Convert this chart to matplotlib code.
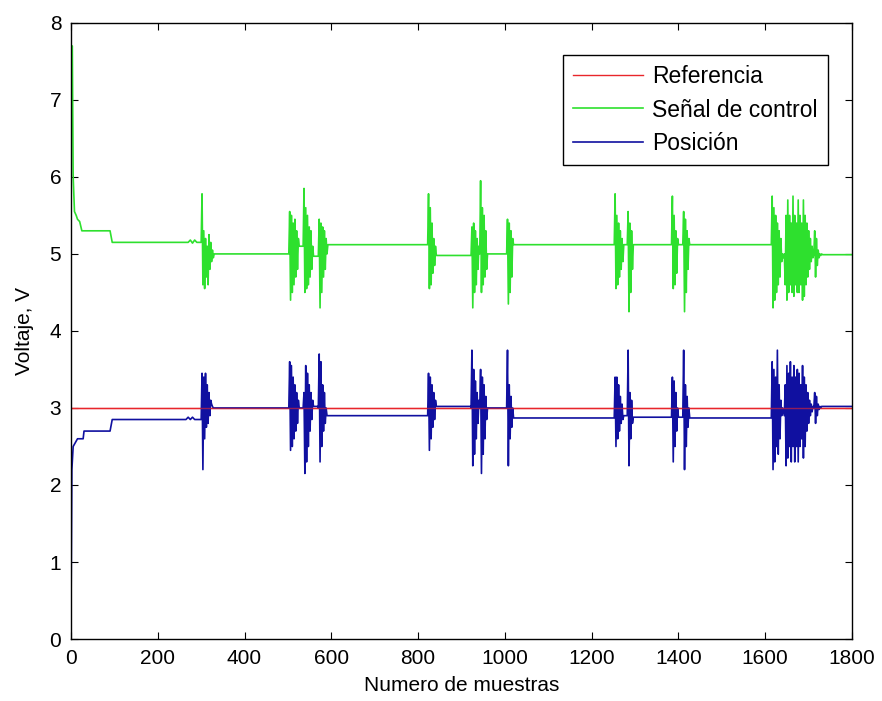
import matplotlib
matplotlib.use('Agg')
import matplotlib.pyplot as plt
import numpy as np

plt.rcParams.update({'font.family': ['Liberation Sans', 'DejaVu Sans'], 'font.size': 15})

# Reference level
ref_level = 3.0
x_max = 1800

# Initial transient (sample, value) before the first burst
ctrl_head_x = [0, 3, 5, 8, 12, 15, 20, 25, 90, 95, 270, 275, 280, 285, 290, 298]
ctrl_head_y = [7.7, 7.7, 6.0, 5.55, 5.5, 5.45, 5.42, 5.3, 5.3, 5.15, 5.15, 5.18, 5.14, 5.18, 5.15, 5.15]
pos_head_x = [0, 1, 2, 5, 10, 15, 28, 30, 90, 95, 265, 270, 275, 280, 285, 298]
pos_head_y = [0.3, 1.2, 2.2, 2.5, 2.55, 2.6, 2.6, 2.7, 2.7, 2.85, 2.85, 2.88, 2.85, 2.88, 2.85, 2.85]

# Bursts: start sample, values every 2 samples
burst_starts = [300, 502, 535, 570, 822, 922, 942, 1004, 1252, 1282, 1384, 1410, 1614]
burst_step = 2

ctrl_bursts = [
    [5.15, 5.78, 4.6, 5.3, 4.55, 5.2, 4.7, 5.1, 4.6, 5.25, 4.8, 5.15, 4.9, 5.05, 4.95, 5.0],
    [5.0, 5.55, 4.4, 5.5, 4.5, 5.4, 4.6, 5.45, 4.7, 5.3, 4.8, 5.2, 5.1],
    [5.1, 5.85, 4.5, 5.6, 4.55, 5.5, 4.6, 5.35, 4.7, 5.3, 4.8, 5.1, 4.97],
    [4.97, 5.45, 4.3, 5.4, 4.5, 5.35, 4.7, 5.3, 4.8, 5.2, 5.0, 5.12],
    [5.12, 5.78, 4.55, 5.6, 4.6, 5.4, 4.75, 5.2, 4.85, 5.1, 4.98],
    [4.98, 5.35, 4.3, 5.4, 4.5, 5.3, 4.6, 5.2, 4.8, 5.1],
    [5.0, 5.95, 4.5, 5.6, 4.6, 5.5, 4.7, 5.3, 4.8, 5.0],
    [5.0, 5.45, 4.35, 5.4, 4.5, 5.3, 4.7, 5.2, 5.12],
    [5.12, 5.78, 4.55, 5.5, 4.6, 5.4, 4.7, 5.3, 4.8, 5.2, 4.9, 5.12],
    [5.12, 5.55, 4.25, 5.4, 4.5, 5.3, 4.8, 5.12],
    [5.12, 5.75, 4.55, 5.5, 4.6, 5.3, 4.75, 5.2, 5.12],
    [5.12, 5.55, 4.25, 5.45, 4.5, 5.3, 4.8, 5.2, 5.12],
    [5.12, 5.75, 4.3, 5.6, 4.4, 5.5, 4.5, 5.4, 4.6, 5.3, 4.7, 5.2, 4.9, 5.0, 4.95,
     5.0, 4.6, 5.5, 4.4, 5.7, 4.5, 5.5, 4.6, 5.4, 4.5, 5.75, 4.45, 5.5, 4.6, 5.4,
     4.5, 5.7, 4.5, 5.5, 4.6, 5.4, 4.4, 5.7, 4.45, 5.5, 4.6, 5.4, 4.7, 5.3, 4.8,
     5.2, 4.9, 5.1, 4.95, 5.0, 5.3, 4.7, 5.2, 4.85, 5.05, 4.95, 5.0, 4.98, 5.0, 4.99],
]

pos_bursts = [
    [2.85, 3.45, 2.2, 3.4, 2.6, 3.45, 2.75, 3.3, 2.8, 3.2, 2.9, 3.1, 3.05, 3.02, 3.0, 3.0],
    [3.0, 3.6, 2.45, 3.55, 2.5, 3.4, 2.6, 3.3, 2.7, 3.2, 2.8, 3.1, 3.0],
    [3.0, 3.2, 2.15, 3.55, 2.3, 3.45, 2.5, 3.3, 2.7, 3.2, 2.85, 3.1, 3.02],
    [3.0, 3.7, 2.3, 3.6, 2.5, 3.3, 2.7, 3.2, 2.8, 3.0, 2.9, 2.9],
    [2.9, 3.45, 2.45, 3.4, 2.6, 3.3, 2.75, 3.2, 2.85, 3.1, 3.02],
    [3.0, 3.75, 2.25, 3.5, 2.4, 3.35, 2.6, 3.2, 2.8, 3.1],
    [3.0, 3.5, 2.15, 3.4, 2.4, 3.3, 2.6, 3.15, 2.85, 3.0],
    [3.0, 3.75, 2.25, 3.3, 2.6, 3.15, 2.75, 3.0, 2.87],
    [2.87, 3.4, 2.5, 3.4, 2.6, 3.3, 2.7, 3.15, 2.8, 3.05, 2.85, 2.9],
    [2.9, 3.75, 2.25, 3.2, 2.6, 3.1, 2.8, 2.88],
    [2.88, 3.4, 2.3, 3.35, 2.5, 3.2, 2.7, 3.0, 2.88],
    [2.88, 3.75, 2.2, 3.3, 2.5, 3.15, 2.75, 3.0, 2.87],
    [2.87, 3.6, 2.2, 3.5, 2.3, 3.4, 2.5, 3.75, 2.4, 3.3, 2.6, 3.1, 2.9, 3.0, 2.95,
     2.9, 3.3, 2.25, 3.55, 2.35, 3.45, 2.5, 3.6, 2.3, 3.4, 2.5, 3.55, 2.3, 3.4, 2.5,
     3.5, 2.3, 3.45, 2.5, 3.3, 2.6, 3.55, 2.35, 3.4, 2.5, 3.3, 2.7, 3.2, 2.8, 3.1,
     2.9, 3.05, 2.95, 3.02, 3.0, 3.2, 2.8, 3.15, 2.9, 3.05, 2.98, 3.02, 3.0, 3.02, 3.02],
]


def build(head_x, head_y, bursts):
    xs, ys = list(head_x), list(head_y)
    for i, (s, vals) in enumerate(zip(burst_starts, bursts)):
        bx = [s + burst_step * k for k in range(len(vals))]
        xs += bx
        ys += vals
        nxt = burst_starts[i + 1] if i + 1 < len(burst_starts) else x_max
        # hold the last value until the next burst
        xs.append(nxt - 1)
        ys.append(vals[-1])
    return np.array(xs), np.array(ys)


cx, cy = build(ctrl_head_x, ctrl_head_y, ctrl_bursts)
px, py = build(pos_head_x, pos_head_y, pos_bursts)

fig = plt.figure(figsize=(8.82, 7.01), dpi=100)
ax = fig.add_axes([0.0805, 0.0884, 0.8855, 0.879])

ax.plot([0, x_max], [ref_level, ref_level], color='#e8262b', lw=1.0, label='Referencia')
ax.plot(cx, cy, color='#2ee02e', lw=1.2, label='Señal de control')
ax.plot(px, py, color='#1010a0', lw=1.2, label='Posición')
# redraw the reference on top so it stays visible along 3 V
ax.plot([0, x_max], [ref_level, ref_level], color='#e8262b', lw=1.0, alpha=0.6)

ax.set_xlim(0, x_max)
ax.set_ylim(0, 8)
ax.set_xticks(np.arange(0, 1801, 200))
ax.set_yticks(np.arange(0, 9, 1))
ax.tick_params(direction='in', top=True, right=True, length=5, labelsize=15, pad=7)
for sp in ax.spines.values():
    sp.set_linewidth(1.0)

ax.set_xlabel('Numero de muestras', fontsize=15, labelpad=6)
ax.set_ylabel('Voltaje, V', fontsize=15, labelpad=11)

leg = ax.legend(loc='upper right', bbox_to_anchor=(0.969, 0.948), borderaxespad=0,
                fontsize=16.5, handlelength=3.05, handletextpad=0.4, fancybox=False,
                framealpha=1, edgecolor='black', borderpad=0.45, labelspacing=0.45)
leg.get_frame().set_linewidth(1.0)

fig.savefig('out.png', dpi=100, facecolor='white')
